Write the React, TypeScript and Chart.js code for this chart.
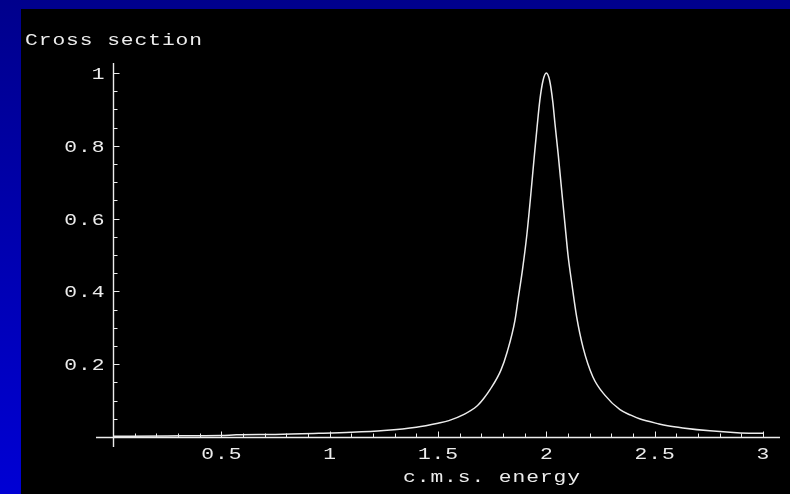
import { useEffect, useRef } from "react";
import { Chart, registerables } from "chart.js";

Chart.register(...registerables);

// Resonance line shape: cross section against centre-of-mass energy
const energy = [
  0.0, 0.25, 0.5, 0.57, 0.75, 0.95, 1.1, 1.25, 1.4, 1.5, 1.55, 1.62, 1.68, 1.71,
  1.74, 1.79, 1.82, 1.855, 1.87, 1.89, 1.91, 1.925, 1.945, 1.957, 1.97, 1.985,
  2.0, 2.015, 2.03, 2.04, 2.055, 2.072, 2.086, 2.1, 2.118, 2.14, 2.17, 2.215,
  2.27, 2.34, 2.39, 2.43, 2.52, 2.56, 2.63, 2.755, 2.88, 3.0,
];
const crossSection = [
  0.002, 0.003, 0.004, 0.006, 0.007, 0.01, 0.013, 0.018, 0.027, 0.038, 0.045,
  0.062, 0.085, 0.105, 0.13, 0.183, 0.235, 0.32, 0.38, 0.46, 0.555, 0.645,
  0.775, 0.85, 0.925, 0.98, 1.0, 0.98, 0.92, 0.86, 0.775, 0.67, 0.585, 0.5,
  0.42, 0.33, 0.245, 0.165, 0.115, 0.075, 0.06, 0.05, 0.036, 0.031, 0.025,
  0.017, 0.012, 0.01,
];

const xTickValues = [0.5, 1, 1.5, 2, 2.5, 3];
const xTickLabels = ["0.5", "1", "1.5", "2", "2.5", "3"];
const yTickValues = [0.2, 0.4, 0.6, 0.8, 1];
const yTickLabels = ["0.2", "0.4", "0.6", "0.8", "1"];
const xMinorStep = 0.1;
const yMinorStep = 0.05;
const yTitle = "Cross section";
const xTitle = "c.m.s. energy";

const INK = "#ececec";
const FONT = "17px 'Liberation Mono', 'DejaVu Sans Mono', monospace";
const STRETCH = 1.25; // wide typewriter look
const SPACING = 0.75;

function drawText(
  ctx: CanvasRenderingContext2D,
  text: string,
  x: number,
  y: number,
  align: "left" | "center" | "right"
) {
  ctx.save();
  ctx.font = FONT;
  (ctx as any).letterSpacing = SPACING + "px";
  ctx.textAlign = "left";
  ctx.textBaseline = "alphabetic";
  ctx.fillStyle = INK;
  const w = (ctx.measureText(text).width - SPACING) * STRETCH;
  let left = x;
  if (align === "center") left = x - w / 2;
  if (align === "right") left = x - w;
  ctx.translate(left, y);
  ctx.scale(STRETCH, 1);
  ctx.fillText(text, 0, 0);
  ctx.restore();
}

const framePlugin = {
  id: "frame",
  beforeDraw(chart: any) {
    const { ctx, width, height } = chart;
    ctx.save();
    const g = ctx.createLinearGradient(0, 0, 0, height);
    g.addColorStop(0, "#00008c");
    g.addColorStop(1, "#0000d4");
    ctx.fillStyle = g;
    ctx.fillRect(0, 0, width, height);
    ctx.fillStyle = "#000000";
    ctx.fillRect(21, 9, width - 21, height - 9);
    ctx.restore();
  },
  beforeDatasetsDraw(chart: any) {
    const { ctx, chartArea } = chart;
    const xs = chart.scales.x;
    const ys = chart.scales.y;
    const x0 = Math.round(xs.getPixelForValue(0)) + 0.5;
    const y0 = Math.round(ys.getPixelForValue(0)) + 0.5;
    ctx.save();
    ctx.strokeStyle = INK;
    ctx.lineWidth = 1.4;
    ctx.beginPath();
    ctx.moveTo(chartArea.left, y0);
    ctx.lineTo(chartArea.right, y0);
    ctx.moveTo(x0, chartArea.top);
    ctx.lineTo(x0, chartArea.bottom);
    ctx.stroke();

    ctx.lineWidth = 1;
    ctx.beginPath();
    // x-axis ticks point up into the plot
    for (let i = 1; i * xMinorStep <= 3 + 1e-9; i++) {
      const v = i * xMinorStep;
      const major = xTickValues.some((t) => Math.abs(t - v) < 1e-6);
      const px = Math.round(xs.getPixelForValue(v)) + 0.5;
      ctx.moveTo(px, y0);
      ctx.lineTo(px, y0 - (major ? 6 : 4));
    }
    // y-axis ticks point right into the plot
    for (let i = 1; i * yMinorStep <= 1 + 1e-9; i++) {
      const v = i * yMinorStep;
      const major = yTickValues.some((t) => Math.abs(t - v) < 1e-6);
      const py = Math.round(ys.getPixelForValue(v)) + 0.5;
      ctx.moveTo(x0, py);
      ctx.lineTo(x0 + (major ? 6 : 4), py);
    }
    ctx.stroke();
    ctx.restore();

    xTickValues.forEach((v, i) => {
      drawText(ctx, xTickLabels[i], xs.getPixelForValue(v), y0 + 21, "center");
    });
    yTickValues.forEach((v, i) => {
      drawText(ctx, yTickLabels[i], x0 - 9, ys.getPixelForValue(v) + 6, "right");
    });
    drawText(ctx, yTitle, 25, 45, "left");
    drawText(ctx, xTitle, 403, 482, "left");
  },
};

export default function App() {
  const canvasRef = useRef<HTMLCanvasElement | null>(null);

  useEffect(() => {
    const canvas = canvasRef.current;
    if (!canvas) return;
    const chart = new Chart(canvas, {
      type: "scatter",
      data: {
        datasets: [
          {
            data: energy.map((e, i) => ({ x: e, y: crossSection[i] })),
            showLine: true,
            borderColor: INK,
            borderWidth: 1.5,
            pointRadius: 0,
            cubicInterpolationMode: "monotone",
            fill: false,
          },
        ],
      },
      options: {
        responsive: false,
        animation: false,
        events: [],
        layout: { padding: { left: 96, right: 10, top: 63, bottom: 47 } },
        plugins: {
          legend: { display: false },
          tooltip: { enabled: false },
        },
        scales: {
          x: { type: "linear", display: false, min: -17 / 216.67, max: 3 + 17 / 216.67 },
          y: { type: "linear", display: false, min: -10 / 364, max: 1 + 10 / 364 },
        },
      },
      plugins: [framePlugin],
    });
    return () => chart.destroy();
  }, []);

  return (
    <div style={{ position: "fixed", left: 0, top: 0, width: 790, height: 494 }}>
      <canvas ref={canvasRef} width={790} height={494} style={{ display: "block" }} />
    </div>
  );
}
